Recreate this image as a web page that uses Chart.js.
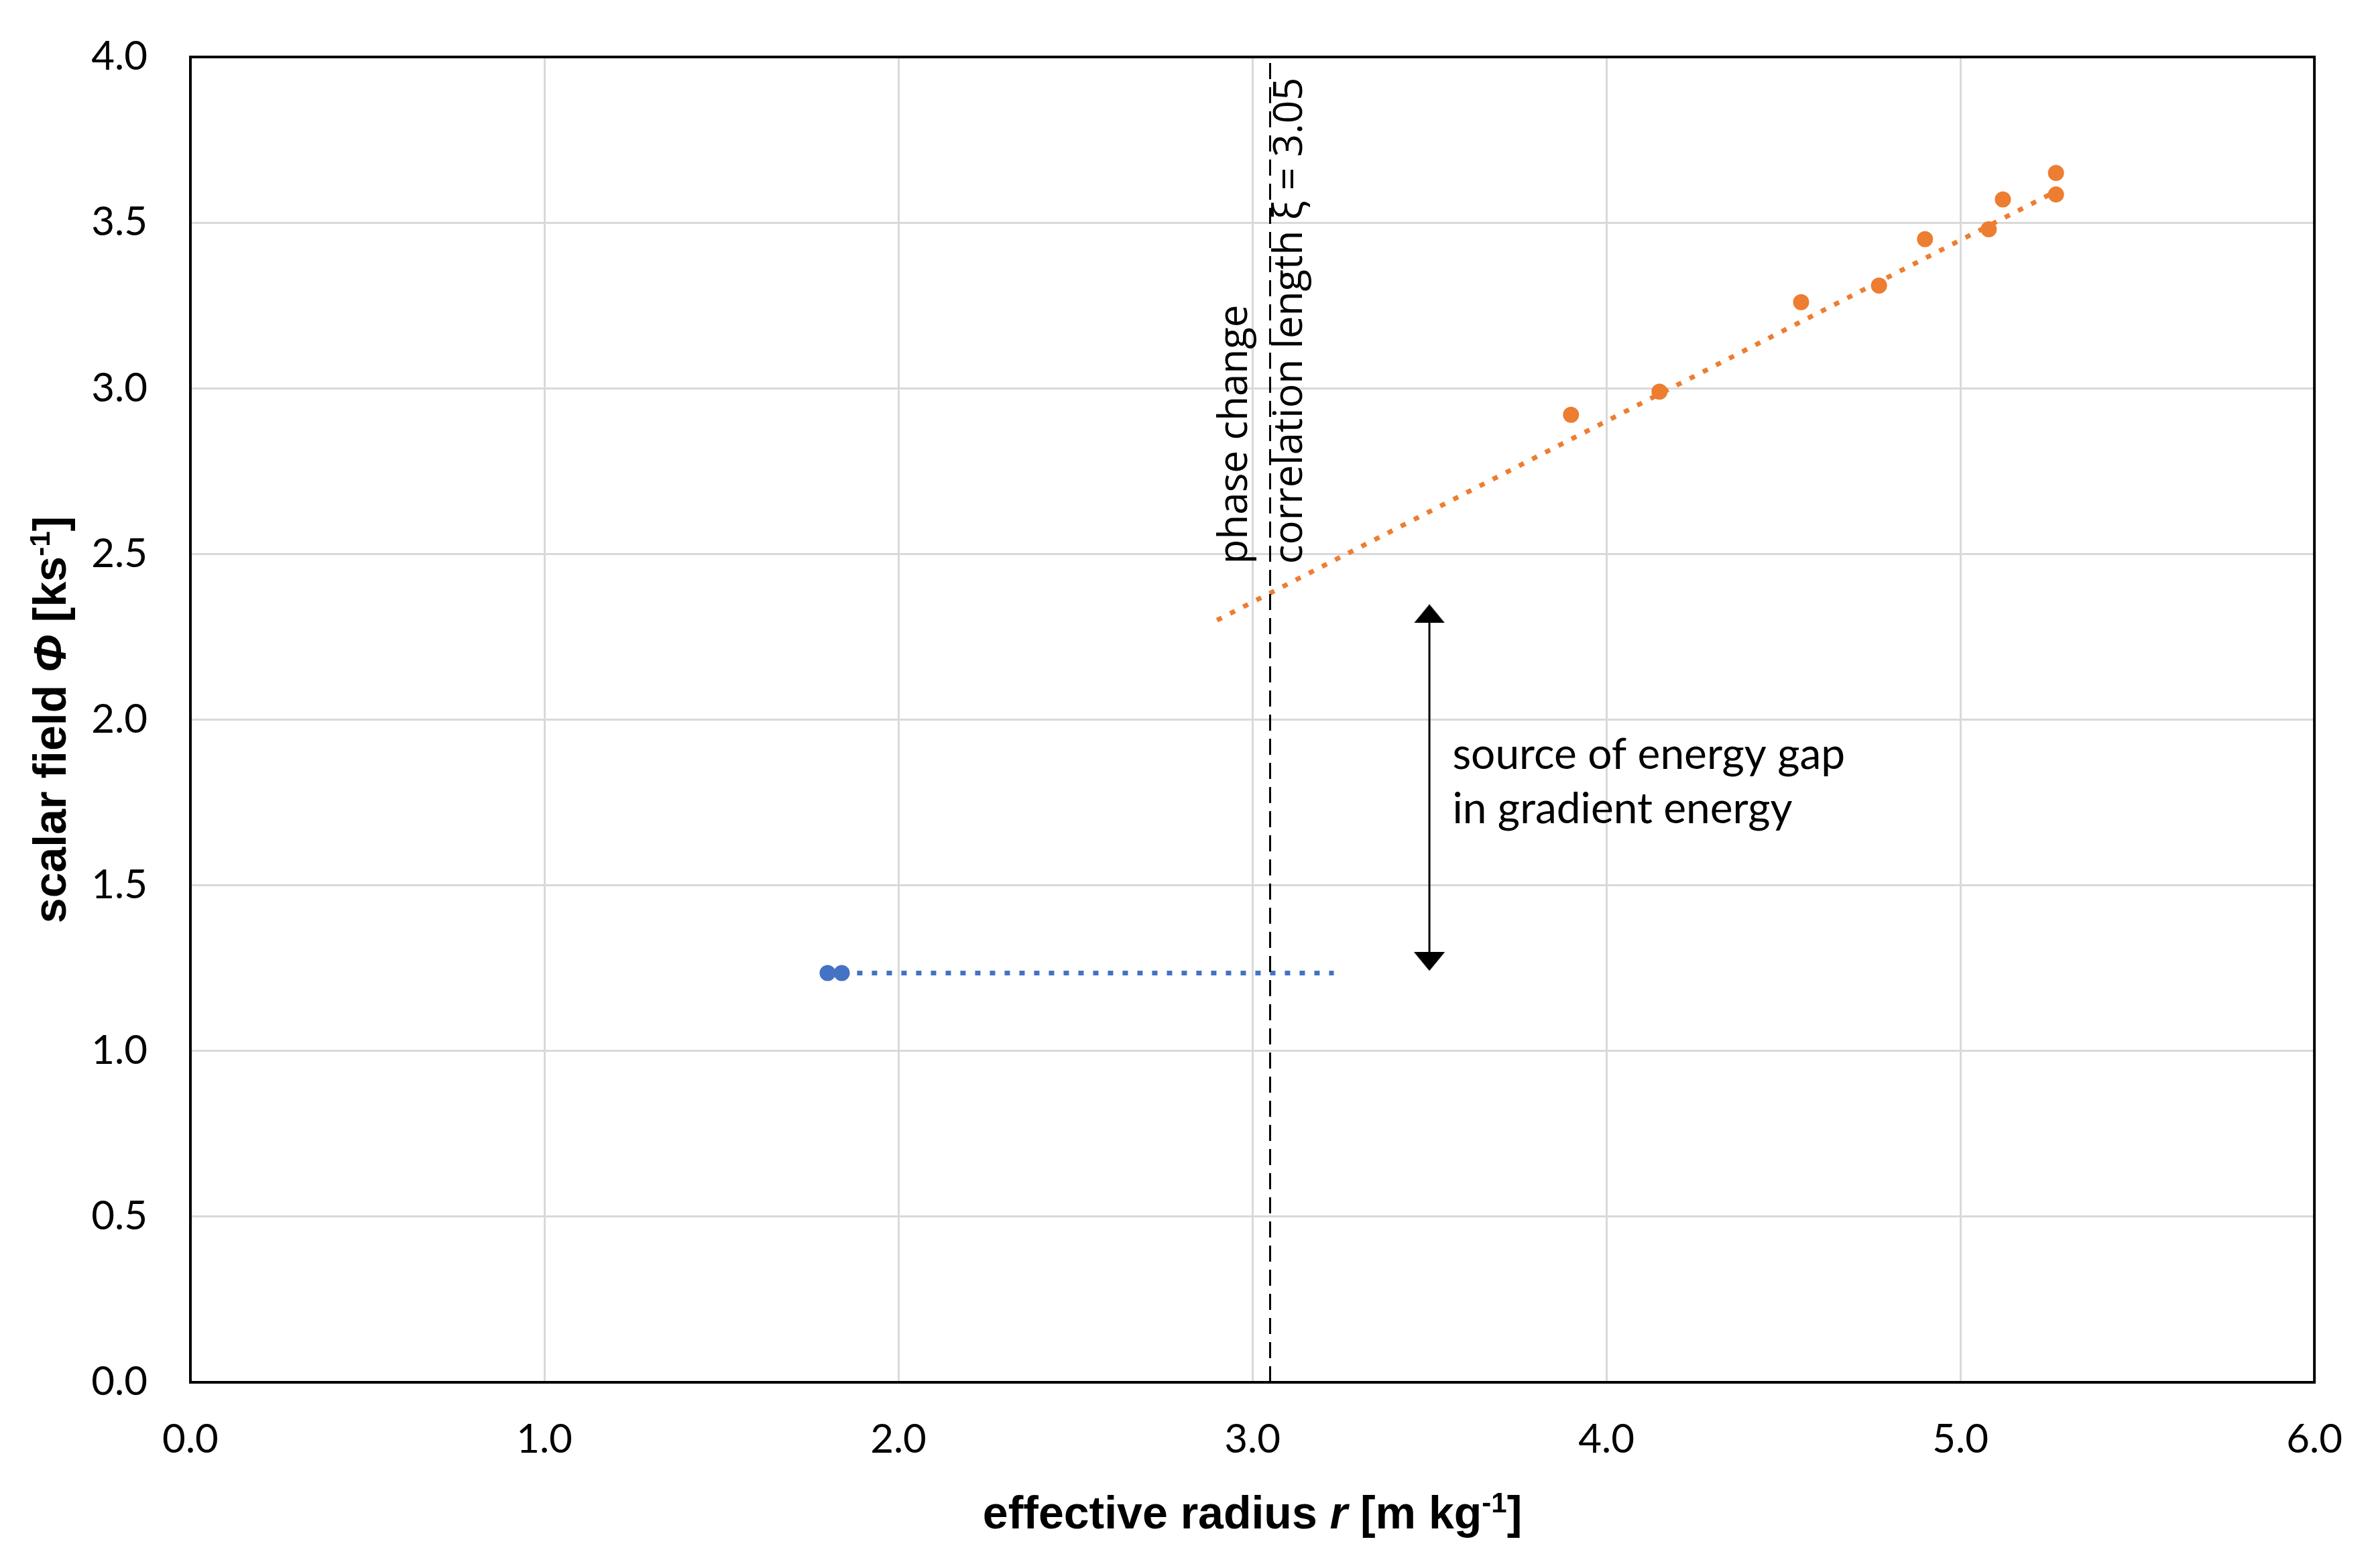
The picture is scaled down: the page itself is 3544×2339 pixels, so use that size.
<!DOCTYPE html>
<html>
<head>
<meta charset="utf-8">
<script src="https://cdn.jsdelivr.net/npm/chart.js@4.4.1/dist/chart.umd.min.js"></script>
<style>
  html, body { margin: 0; padding: 0; background: #fff; }
  #wrap { width: 3544px; height: 2339px; }
</style>
</head>
<body>
<div id="wrap"><canvas id="chart"></canvas></div>
<script>
// values
const X_TICKS = [0, 1, 2, 3, 4, 5, 6];
const Y_TICKS = [0, 0.5, 1, 1.5, 2, 2.5, 3, 3.5, 4];

const orangeR = [3.90, 4.15, 4.55, 4.77, 4.90, 5.08, 5.12, 5.27, 5.27];
const orangePhi = [2.92, 2.99, 3.26, 3.31, 3.45, 3.48, 3.57, 3.65, 3.585];
const orangeTrendR = [2.90, 5.28];
const orangeTrendPhi = [2.30, 3.60];

const blueR = [1.80, 1.84];
const bluePhi = [1.235, 1.235];
const blueTrendR = [1.80, 3.23];
const blueTrendPhi = [1.235, 1.235];

const xiR = [3.05, 3.05];
const xiPhi = [0, 4];

const gapR = [3.5, 3.5];
const gapPhi = [1.27, 2.32];

const PHASE_LABEL = "phase change";
const CORR_LABEL = "correlation length ξ = 3.05";
const GAP_LABEL = ["source of energy gap", "in gradient energy"];

const ORANGE = "#ED7D31";
const BLUE = "#4472C4";
const GRID = "#d9d9d9";

const pts = (xs, ys) => xs.map((x, i) => ({ x, y: ys[i] }));

// flat arrow head, Excel style
function arrowHead() {
  const c = document.createElement("canvas");
  c.width = 46; c.height = 28;
  const g = c.getContext("2d");
  g.fillStyle = "#000";
  g.beginPath();
  g.moveTo(23, 0); g.lineTo(46, 28); g.lineTo(0, 28);
  g.closePath(); g.fill();
  return c;
}

function segFont(s, size) {
  const sz = s.sup ? Math.round(size * 0.62) : size;
  return `${s.italic ? "italic " : ""}bold ${sz}px 'Liberation Sans'`;
}

function drawRich(ctx, segs, size) {
  let w = 0;
  segs.forEach((s) => { ctx.font = segFont(s, size); w += ctx.measureText(s.t).width; });
  let x = -w / 2;
  segs.forEach((s) => {
    ctx.font = segFont(s, size);
    ctx.fillText(s.t, x, s.sup ? -size * 0.36 : 0);
    x += ctx.measureText(s.t).width;
  });
}

const X_TITLE = [
  { t: "effective radius " }, { t: "r", italic: true }, { t: " [m kg" }, { t: "-1", sup: true }, { t: "]" },
];
const Y_TITLE = [
  { t: "scalar field " }, { t: "Φ", italic: true }, { t: " [ks" }, { t: "-1", sup: true }, { t: "]" },
];

const framePlugin = {
  id: "frame",
  beforeDatasetsDraw(chart) {
    const { ctx, chartArea: a } = chart;
    ctx.save();
    ctx.strokeStyle = "#000";
    ctx.lineWidth = 4;
    ctx.strokeRect(a.left, a.top, a.right - a.left, a.bottom - a.top);
    ctx.restore();
  },
};

const labelPlugin = {
  id: "labels",
  afterDatasetsDraw(chart) {
    const { ctx, chartArea: a, scales: { x, y } } = chart;
    ctx.save();
    ctx.fillStyle = "#000";
    ctx.textAlign = "left";
    ctx.textBaseline = "alphabetic";

    // vertical labels at the correlation length
    ctx.font = "60px 'Open Sans'";
    [[PHASE_LABEL, 2.985], [CORR_LABEL, 3.14]].forEach(([t, r]) => {
      ctx.save();
      ctx.translate(x.getPixelForValue(r), y.getPixelForValue(2.47));
      ctx.rotate(-Math.PI / 2);
      ctx.fillText(t, 0, 0);
      ctx.restore();
    });

    // energy gap note
    ctx.font = "64px Lato";
    ctx.fillText(GAP_LABEL[0], x.getPixelForValue(3.565), y.getPixelForValue(1.851));
    ctx.fillText(GAP_LABEL[1], x.getPixelForValue(3.565), y.getPixelForValue(1.687));

    // axis titles
    ctx.save();
    ctx.translate((a.left + a.right) / 2, 2280);
    drawRich(ctx, X_TITLE, 68);
    ctx.restore();

    ctx.save();
    ctx.translate(98, (a.top + a.bottom) / 2);
    ctx.rotate(-Math.PI / 2);
    drawRich(ctx, Y_TITLE, 68);
    ctx.restore();

    ctx.restore();
  },
};

const head = arrowHead();

new Chart(document.getElementById("chart"), {
  type: "scatter",
  data: {
    datasets: [
      { data: pts(orangeR, orangePhi), backgroundColor: ORANGE, pointRadius: 12, pointBorderWidth: 0 },
      { data: pts(blueR, bluePhi), backgroundColor: BLUE, pointRadius: 12, pointBorderWidth: 0 },
      {
        data: pts(gapR, gapPhi), showLine: true, borderColor: "#000", borderWidth: 3,
        pointStyle: head, pointRotation: [180, 0], pointRadius: 14,
      },
      {
        data: pts(xiR, xiPhi), showLine: true, borderColor: "#000", borderWidth: 3,
        borderDash: [24, 12], pointRadius: 0,
      },
      {
        data: pts(orangeTrendR, orangeTrendPhi), showLine: true, borderColor: ORANGE, borderWidth: 7,
        borderDash: [8, 14], pointRadius: 0,
      },
      {
        data: pts(blueTrendR, blueTrendPhi), showLine: true, borderColor: BLUE, borderWidth: 7,
        borderDash: [8, 14], pointRadius: 0,
      },
    ],
  },
  options: {
    responsive: true,
    maintainAspectRatio: false,
    animation: false,
    layout: { padding: { top: 85, right: 84, left: 0, bottom: 0 } },
    plugins: { legend: { display: false }, tooltip: { enabled: false } },
    scales: {
      x: {
        type: "linear", min: 0, max: 6,
        afterBuildTicks: (s) => { s.ticks = X_TICKS.map((v) => ({ value: v })); },
        afterFit: (s) => { s.height = 277; },
        ticks: { padding: 50, color: "#000", font: { family: "Lato", size: 60 }, callback: (v) => v.toFixed(1) },
        grid: { color: GRID, lineWidth: 3, drawTicks: false },
        border: { display: false },
      },
      y: {
        type: "linear", min: 0, max: 4,
        afterBuildTicks: (s) => { s.ticks = Y_TICKS.map((v) => ({ value: v })); },
        // tick padding would otherwise push the plot top down
        afterFit: (s) => { s.width = 284; s.paddingTop = 0; s.paddingBottom = 0; },
        ticks: { padding: 64, color: "#000", font: { family: "Lato", size: 60 }, callback: (v) => v.toFixed(1) },
        grid: { color: GRID, lineWidth: 3, drawTicks: false },
        border: { display: false },
      },
    },
  },
  plugins: [framePlugin, labelPlugin],
});
</script>
</body>
</html>
